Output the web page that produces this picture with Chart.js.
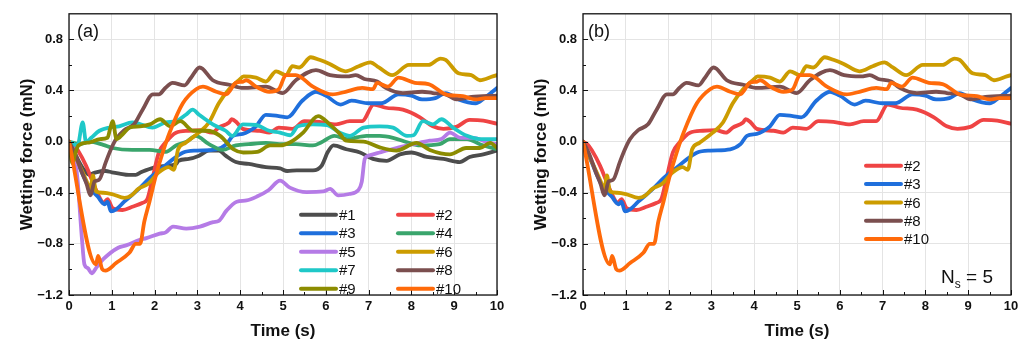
<!DOCTYPE html>
<html>
<head>
<meta charset="utf-8">
<script src="https://cdn.jsdelivr.net/npm/chart.js@4"></script>
<style>
  html, body { margin: 0; padding: 0; background: #fff; }
  .panel { position: absolute; top: 0; height: 344px; }
  #pa { left: 0; width: 512px; }
  #pb { left: 514px; width: 511px; }
</style>
</head>
<body>
<div class="panel" id="pa"><canvas id="ca"></canvas></div>
<div class="panel" id="pb"><canvas id="cb"></canvas></div>
<script>
// Wetting force traces, [time (s), force (mN)]
const s1 = [[0,0],[0.12,-0.08],[0.24,-0.16],[0.35,-0.22],[0.47,-0.26],[0.55,-0.25],[0.63,-0.24],[0.86,-0.23],[1.0,-0.24],[1.18,-0.25],[1.4,-0.26],[1.56,-0.26],[1.68,-0.24],[1.79,-0.225],[2.03,-0.2],[2.26,-0.19],[2.5,-0.175],[2.56,-0.15],[2.8,-0.135],[3.04,-0.11],[3.27,-0.07],[3.5,-0.07],[3.66,-0.11],[3.9,-0.16],[4.2,-0.175],[4.6,-0.2],[4.93,-0.21],[5.1,-0.23],[5.32,-0.225],[5.7,-0.225],[5.9,-0.19],[6.05,-0.08],[6.18,-0.03],[6.48,-0.06],[6.8,-0.085],[7.1,-0.135],[7.42,-0.15],[7.73,-0.1],[8.0,-0.085],[8.36,-0.12],[8.75,-0.135],[9.13,-0.16],[9.36,-0.12],[9.68,-0.1],[10,-0.07]];
const s2 = [[0,0],[0.1,-0.02],[0.21,-0.07],[0.4,-0.19],[0.56,-0.32],[0.72,-0.44],[0.8,-0.48],[0.9,-0.45],[1.02,-0.52],[1.25,-0.535],[1.48,-0.51],[1.71,-0.48],[1.83,-0.45],[1.95,-0.29],[2.1,-0.085],[2.26,-0.005],[2.5,0.07],[2.8,0.085],[3.1,0.09],[3.34,0.07],[3.5,0.11],[3.74,0.15],[3.8,0.175],[3.92,0.15],[4.06,0.1],[4.45,0.085],[4.68,0.07],[4.9,0.11],[5.22,0.1],[5.5,0.16],[5.85,0.155],[6.24,0.135],[6.56,0.16],[6.85,0.16],[7.12,0.29],[7.4,0.265],[7.8,0.25],[8.2,0.19],[8.5,0.12],[8.75,0.1],[9.05,0.115],[9.36,0.17],[9.68,0.165],[10,0.14]];
const s3 = [[0,0],[0.2,-0.16],[0.44,-0.34],[0.67,-0.43],[0.83,-0.49],[0.9,-0.47],[0.98,-0.545],[1.1,-0.53],[1.29,-0.47],[1.6,-0.38],[1.9,-0.28],[2.2,-0.2],[2.44,-0.135],[2.67,-0.085],[2.98,-0.07],[3.44,-0.06],[3.68,-0.02],[3.83,0.045],[4.06,0.06],[4.2,0.08],[4.37,0.12],[4.6,0.21],[4.9,0.2],[5.1,0.19],[5.45,0.32],[5.77,0.39],[6.0,0.36],[6.35,0.29],[6.6,0.32],[7.0,0.3],[7.3,0.3],[7.7,0.37],[8.0,0.36],[8.25,0.33],[8.56,0.34],[8.8,0.38],[9.1,0.33],[9.5,0.3],[9.7,0.34],[10,0.42]];
const s4 = [[0,0],[0.24,-0.02],[0.47,0.0],[0.8,-0.025],[1.02,-0.05],[1.48,-0.065],[1.88,-0.065],[2.26,-0.08],[2.5,-0.03],[2.75,0.0],[2.96,0.045],[3.27,-0.02],[3.58,-0.065],[3.9,-0.03],[4.2,-0.02],[4.6,-0.01],[5.0,-0.02],[5.3,-0.02],[5.7,-0.03],[5.9,-0.005],[6.2,0.045],[6.5,0.02],[6.95,0.045],[7.26,0.045],[7.57,0.03],[7.9,-0.005],[8.2,-0.03],[8.66,-0.02],[8.9,0.02],[9.3,0.02],[9.6,-0.02],[10,-0.06]];
const s5 = [[0,0],[0.1,-0.06],[0.2,-0.3],[0.3,-0.75],[0.36,-0.96],[0.44,-0.99],[0.53,-1.03],[0.65,-0.98],[0.8,-0.92],[1.15,-0.83],[1.35,-0.81],[1.64,-0.77],[1.81,-0.755],[2.12,-0.72],[2.26,-0.71],[2.43,-0.665],[2.74,-0.68],[3.06,-0.665],[3.37,-0.63],[3.5,-0.62],[3.68,-0.54],[3.92,-0.47],[4.15,-0.46],[4.39,-0.43],[4.66,-0.38],[4.93,-0.305],[5.16,-0.36],[5.55,-0.395],[5.94,-0.39],[6.1,-0.37],[6.29,-0.42],[6.55,-0.41],[6.76,-0.38],[6.84,-0.315],[6.91,-0.135],[7.0,-0.11],[7.26,-0.085],[7.65,-0.05],[8.05,-0.02],[8.43,0.007],[8.7,0.02],[8.9,0.07],[9.15,0.03],[9.46,0.03],[9.77,-0.005],[10,-0.02]];
const s6 = [[0,0],[0.1,-0.08],[0.25,-0.19],[0.4,-0.3],[0.5,-0.37],[0.56,-0.265],[0.63,-0.39],[0.8,-0.4],[1.0,-0.41],[1.3,-0.44],[1.46,-0.42],[1.62,-0.37],[1.85,-0.33],[2.1,-0.24],[2.33,-0.2],[2.45,-0.22],[2.55,-0.06],[2.72,-0.01],[3.03,0.07],[3.27,0.15],[3.5,0.3],[3.74,0.41],[3.97,0.48],[4.08,0.51],[4.37,0.5],[4.6,0.47],[4.84,0.55],[5.07,0.52],[5.22,0.59],[5.38,0.58],[5.65,0.66],[5.85,0.64],[6.08,0.61],[6.46,0.55],[6.77,0.59],[7.04,0.62],[7.24,0.58],[7.55,0.52],[7.94,0.6],[8.4,0.6],[8.68,0.65],[8.8,0.64],[9.1,0.535],[9.4,0.52],[9.6,0.48],[9.9,0.51],[10,0.52]];
const s7 = [[0,0],[0.2,-0.03],[0.32,0.15],[0.4,-0.005],[0.52,0.03],[0.71,0.085],[0.94,0.11],[1.17,0.12],[1.48,0.15],[1.64,0.14],[1.95,0.11],[2.26,0.15],[2.5,0.16],[2.73,0.21],[2.89,0.25],[3.04,0.21],[3.36,0.135],[3.66,0.085],[3.82,0.045],[4.06,0.135],[4.37,0.13],[4.68,0.085],[4.93,0.07],[5.17,0.05],[5.35,0.12],[5.7,0.135],[6.02,0.13],[6.33,0.07],[6.56,0.045],[6.88,0.11],[7.26,0.12],[7.57,0.11],[7.9,0.045],[8.05,0.05],[8.27,0.16],[8.5,0.135],[8.7,0.175],[8.97,0.11],[9.3,0.045],[9.6,0.02],[10,0.02]];
const s8 = [[0,0],[0.15,-0.1],[0.3,-0.24],[0.41,-0.33],[0.5,-0.42],[0.6,-0.31],[0.7,-0.3],[0.86,-0.16],[0.98,-0.06],[1.1,0.02],[1.29,0.09],[1.52,0.135],[1.72,0.25],[1.96,0.37],[2.1,0.37],[2.25,0.42],[2.42,0.46],[2.7,0.44],[2.85,0.5],[3.05,0.58],[3.12,0.57],[3.36,0.48],[3.75,0.445],[4.07,0.42],[4.6,0.43],[4.99,0.38],[5.3,0.48],[5.77,0.56],[6.1,0.52],[6.5,0.51],[6.7,0.52],[6.9,0.49],[7.2,0.47],[7.4,0.42],[7.8,0.38],[8.25,0.39],[8.5,0.38],[8.8,0.37],[9.05,0.33],[9.4,0.35],[10,0.36]];
const s9 = [[0,0],[0.08,-0.17],[0.14,-0.1],[0.22,-0.03],[0.49,-0.005],[0.72,0.02],[0.9,0.03],[0.96,0.1],[1.02,0.16],[1.11,0.02],[1.26,0.06],[1.42,0.11],[1.66,0.12],[1.89,0.135],[2.13,0.175],[2.36,0.12],[2.6,0.16],[2.9,0.085],[3.22,0.085],[3.53,0.045],[3.84,-0.06],[4.07,-0.085],[4.4,-0.08],[4.7,-0.03],[4.93,-0.03],[5.17,-0.005],[5.47,0.07],[5.82,0.2],[6.09,0.135],[6.33,0.06],[6.48,0.007],[6.88,0.0],[7.26,-0.045],[7.65,-0.07],[8.12,-0.01],[8.43,-0.065],[8.9,-0.1],[9.28,-0.05],[9.6,-0.05],[9.84,-0.01],[10,-0.05]];
const s10 = [[0,0],[0.63,-0.96],[0.68,-0.895],[0.78,-1.0],[0.85,-1.01],[1.1,-0.95],[1.41,-0.87],[1.56,-0.8],[1.66,-0.8],[1.76,-0.625],[1.88,-0.47],[2.03,-0.265],[2.19,-0.085],[2.35,0.07],[2.66,0.3],[2.97,0.41],[3.13,0.43],[3.44,0.39],[3.67,0.37],[3.9,0.46],[4.07,0.47],[4.14,0.48],[4.37,0.43],[4.68,0.39],[4.9,0.41],[5.07,0.52],[5.3,0.52],[5.7,0.43],[6.15,0.37],[6.46,0.39],[6.85,0.42],[7.1,0.41],[7.2,0.46],[7.45,0.43],[7.7,0.5],[8.08,0.46],[8.4,0.45],[8.8,0.37],[9.2,0.355],[9.5,0.33],[9.73,0.34],[10,0.34]];

const labels = ['#1','#2','#3','#4','#5','#6','#7','#8','#9','#10'];
const traces = [s1, s2, s3, s4, s5, s6, s7, s8, s9, s10];
const colors = ['#4d4d4d','#ef4444','#1f6fdc','#3aa56c','#b57be6','#cc9c00','#1fc8c8','#7b4f4f','#8c8c00','#ff6a0a'];
const selected = ['#2','#3','#6','#8','#10'];

const xTicks = [0,1,2,3,4,5,6,7,8,9,10];
const yTicks = [-1.2,-0.8,-0.4,0.0,0.4,0.8];

const FONT = '"Liberation Sans", Arial, sans-serif';
const INK = '#111';

function fmtY(v) {
  const s = Number(v).toFixed(1);
  return s.replace('-', '\u2212');
}

// frame, inward ticks, legend and panel text
const decor = {
  id: 'decor',
  afterDraw(chart, args, o) {
    const {ctx, chartArea: a, scales: {x, y}} = chart;
    ctx.save();
    ctx.strokeStyle = INK;
    ctx.lineWidth = 1;
    // inward tick marks
    ctx.beginPath();
    for (let i = 0; i <= 20; i++) {
      const t = i * 0.5;
      const px = Math.round(x.getPixelForValue(t)) + 0.5;
      const len = i % 2 === 0 ? 5 : 3;
      ctx.moveTo(px, a.bottom); ctx.lineTo(px, a.bottom - len);
    }
    for (let i = 0; i <= 10; i++) {
      const v = -1.2 + i * 0.2;
      const py = Math.round(y.getPixelForValue(v)) + 0.5;
      const len = i % 2 === 0 ? 5 : 3;
      ctx.moveTo(a.left, py); ctx.lineTo(a.left + len, py);
    }
    ctx.stroke();
    // frame
    ctx.lineWidth = 1.3;
    ctx.strokeRect(a.left, a.top, a.right - a.left, a.bottom - a.top);

    // legend
    ctx.lineCap = 'round';
    ctx.font = '15px ' + FONT;
    ctx.textBaseline = 'middle';
    ctx.fillStyle = INK;
    chart.data.datasets.forEach((ds, i) => {
      const col = o.cols === 2 ? i % 2 : 0;
      const row = o.cols === 2 ? Math.floor(i / 2) : i;
      const lx = a.left + o.colX[col];
      const ly = a.top + o.rowY + row * o.rowH;
      ctx.strokeStyle = ds.borderColor;
      ctx.lineWidth = 4;
      ctx.beginPath(); ctx.moveTo(lx, ly); ctx.lineTo(lx + 35, ly); ctx.stroke();
      ctx.fillText(ds.label, lx + 38, ly + 1);
    });

    // panel tag
    ctx.font = '18px ' + FONT;
    ctx.fillText(o.tag, a.left + o.tagDx, a.top + 18);

    if (o.ns) {
      ctx.textBaseline = 'alphabetic';
      const big = '19px ' + FONT, small = '12px ' + FONT;
      ctx.font = big; const wN = ctx.measureText('N').width; const wE = ctx.measureText(' = 5').width;
      ctx.font = small; const wS = ctx.measureText('s').width;
      const base = a.bottom - 12;
      let xs = a.right - 18 - (wN + wS + wE);
      ctx.font = big; ctx.fillText('N', xs, base); xs += wN;
      ctx.font = small; ctx.fillText('s', xs, base + 5); xs += wS;
      ctx.font = big; ctx.fillText(' = 5', xs, base);
    }
    ctx.restore();
  }
};

function makeChart(id, names, decorOpts) {
  const datasets = names.map(n => {
    const i = labels.indexOf(n);
    return {
      label: n,
      data: traces[i].map(([t, v]) => ({x: t, y: v})),
      borderColor: colors[i],
      backgroundColor: colors[i],
      borderWidth: 3.8,
      borderCapStyle: 'round',
      borderJoinStyle: 'round',
      pointRadius: 0,
      cubicInterpolationMode: 'monotone',
      order: 20 - i
    };
  });
  return new Chart(document.getElementById(id), {
    type: 'line',
    data: {datasets},
    plugins: [decor],
    options: {
      responsive: true,
      maintainAspectRatio: false,
      animation: false,
      devicePixelRatio: 1,
      layout: {padding: {left: 0, right: decorOpts.padRight, top: 8, bottom: 0}},
      plugins: {legend: {display: false}, tooltip: {enabled: false}, decor: decorOpts},
      scales: {
        x: {
          type: 'linear', min: 0, max: 10,
          afterBuildTicks: s => { s.ticks = xTicks.map(v => ({value: v})); },
          afterFit: s => { s.height = 49; },
          grid: {color: '#e4e4e4', lineWidth: 1, drawTicks: false},
          border: {display: false},
          ticks: {color: INK, font: {family: FONT, size: 13, weight: 'bold'}, padding: 4, maxRotation: 0},
          title: {display: true, text: 'Time (s)', color: INK,
                  font: {family: FONT, size: 17, weight: 'bold'}, padding: {top: 0, bottom: 2}}
        },
        y: {
          type: 'linear', min: -1.2, max: 1.0,
          afterBuildTicks: s => { s.ticks = yTicks.map(v => ({value: v})); },
          afterFit: s => { s.width = 69; },
          grid: {color: '#e4e4e4', lineWidth: 1, drawTicks: false},
          border: {display: false},
          ticks: {color: INK, font: {family: FONT, size: 13, weight: 'bold'}, padding: 6, callback: v => fmtY(v)},
          title: {display: true, text: 'Wetting force (mN)', color: INK,
                  font: {family: FONT, size: 17, weight: 'bold'}, padding: {top: 17, bottom: 0}}
        }
      }
    }
  });
}

makeChart('ca', labels, {cols: 2, colX: [232, 329], rowY: 201, rowH: 18.5, tag: '(a)', tagDx: 8, ns: false, padRight: 15});
makeChart('cb', selected, {cols: 1, colX: [283], rowY: 152, rowH: 18.3, tag: '(b)', tagDx: 5, ns: true, padRight: 14});
</script>
</body>
</html>
